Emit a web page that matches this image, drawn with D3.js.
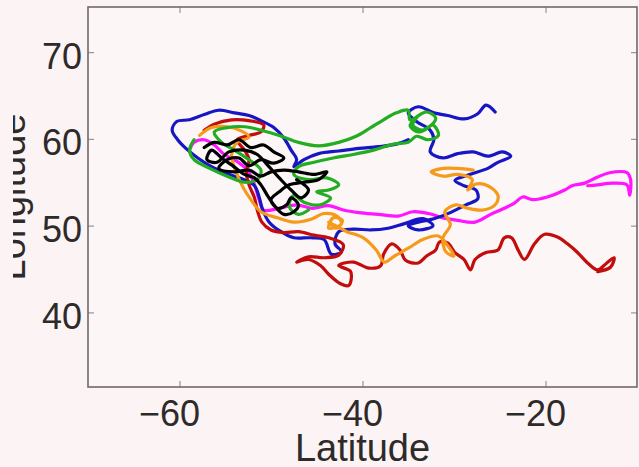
<!DOCTYPE html>
<html>
<head>
<meta charset="utf-8">
<script src="https://cdn.jsdelivr.net/npm/d3@7"></script>
<style>
  body { margin: 0; background: #fcf4f4; }
  svg { display: block; }
  .tick text { font-family: "Liberation Sans", Arial, sans-serif; fill: #2e2a2a; }
</style>
</head>
<body>
<div id="chart"></div>
<script>
// tick values
var xTicks = [-60, -40, -20];
var yTicks = [40, 50, 60, 70];

// tracks as [latitude, longitude] pairs
var blueTrack = [[-25.5,63.1],[-26.5,63.9],[-27.4,62.9],[-28.9,62.3],[-30.7,62.7],[-32.2,63.0],[-33.9,63.7],[-35.0,63.0],
  [-34.1,62.0],[-32.6,61.0],[-32.2,59.9],[-32.6,58.5],[-31.2,57.8],[-29.6,58.3],[-27.9,58.5],[-26.3,58.0],[-24.7,58.5],
  [-23.8,58.0],[-25.2,57.3],[-26.3,56.6],[-28.3,55.9],[-29.9,55.2],[-28.9,54.6],[-27.6,54.1],[-27.4,53.1],[-28.7,52.4],
  [-30.4,51.5],[-32.2,50.8],[-33.9,50.4],[-35.0,50.0],[-33.9,49.5],[-32.3,50.0],[-33.4,50.8],[-35.5,50.2],[-37.2,49.7],
  [-39.1,49.5],[-41.0,49.6],[-42.6,49.3],[-43.0,47.9],[-42.3,47.0],[-43.4,46.7],[-44.2,48.4],[-45.7,48.6],[-47.5,48.6],
  [-48.9,49.3],[-50.2,50.4],[-50.9,51.8],[-51.3,53.3],[-51.8,54.6],[-53.2,55.4],[-54.8,56.0],[-56.5,56.8],[-58.0,57.8],
  [-59.3,58.9],[-60.2,59.9],[-60.8,61.0],[-60.3,62.0],[-58.9,62.2],[-57.3,62.8],[-55.7,63.3],[-54.0,63.0],[-52.4,62.7],
  [-51.1,62.1],[-49.7,61.3],[-48.6,60.1],[-47.8,58.7],[-47.2,57.6],[-47.5,56.8],[-46.4,57.6],[-44.8,58.3],[-42.6,58.6],
  [-40.4,58.9],[-38.3,59.1],[-36.3,59.4],[-35.0,59.9]];

var greenTrack = [[-58.4,59.9],[-58.9,58.7],[-58.4,57.6],[-56.7,56.6],[-54.8,55.7],[-52.9,55.0],[-51.5,55.3],[-51.1,56.4],
  [-52.4,57.6],[-54.0,58.7],[-55.4,59.6],[-56.2,60.8],[-54.8,61.3],[-52.9,61.4],[-51.1,61.0],[-49.1,60.4],[-47.0,59.6],
  [-44.8,59.2],[-42.6,59.6],[-40.7,60.3],[-39.1,61.3],[-37.7,62.2],[-36.3,63.0],[-35.0,63.3],[-34.8,62.2],[-33.0,63.1],
  [-32.0,62.4],[-32.8,61.3],[-33.9,60.8],[-34.8,61.5],[-33.9,62.7],[-34.5,61.6],
  [-33.4,61.0],[-32.3,61.6],[-31.7,60.4],[-32.8,59.9],[-34.1,60.3],[-35.0,59.6],[-36.6,59.4],[-38.8,58.7],[-41.0,58.2],
  [-43.2,57.8],[-45.3,57.3],[-47.0,56.8],[-47.5,55.9],[-45.9,55.3],[-43.9,55.5],[-42.6,54.7],[-43.7,54.1],[-45.0,53.9],
  [-43.5,53.2],[-44.6,52.4],[-46.4,52.7],[-47.5,53.5],[-48.0,52.2],[-47.0,51.3],[-45.9,51.8]];

var blackTrack = [[-57.3,59.0],[-56.2,59.6],[-54.8,59.3],[-53.5,59.9],[-52.2,59.0],[-50.8,59.3],[-49.7,58.5],[-48.6,57.8],
  [-49.7,57.2],[-51.1,57.6],[-52.4,56.9],[-53.5,57.8],[-54.8,57.6],[-55.7,56.6],[-54.0,56.2],[-52.4,56.4],[-51.1,55.7],
  [-50.0,56.2],[-48.6,56.4],[-47.0,56.2],[-45.3,55.9],[-43.9,56.2],[-44.8,55.3],[-46.4,55.0],[-48.0,54.7],[-49.1,53.9],
  [-50.0,53.0],[-49.3,52.0],[-48.3,52.4],[-47.8,53.2],[-47.0,52.4],[-47.5,51.6],[-48.6,51.3],[-49.7,52.4],[-50.4,53.5],
  [-51.1,54.7],[-51.8,55.5],[-52.9,55.9],[-54.3,57.0],[-55.4,57.8],[-56.5,58.7],[-57.0,57.6],[-55.9,57.3],[-54.6,58.5],
  [-52.9,58.7],[-51.5,58.2],[-50.4,57.0],[-49.1,55.5],[-47.8,54.1],[-46.7,53.2],[-45.9,54.1],[-47.2,55.3]];

var redTrack = [[-57.3,61.0],[-56.2,61.7],[-54.3,62.2],[-52.4,62.1],[-50.8,61.6],[-51.1,60.8],[-52.4,60.4],[-53.7,59.9],
  [-52.9,58.7],[-52.4,57.6],[-52.7,56.2],[-52.4,54.7],[-51.8,53.2],[-51.5,51.8],[-51.0,50.4],[-50.0,49.5],[-48.6,49.2],
  [-47.0,49.3],[-45.3,48.9],[-43.7,48.6],[-42.1,47.8],[-42.6,46.6],[-44.2,46.3],[-45.9,46.4],[-47.2,45.8],[-45.9,46.1],
  [-44.6,45.4],[-43.7,44.4],[-42.4,43.3],[-41.5,43.1],[-41.3,44.7],[-42.6,45.4],[-41.0,45.8],[-39.3,45.1],[-38.0,45.4],
  [-37.7,46.7],[-36.8,47.9],[-35.9,47.2],[-35.3,46.0],[-33.9,45.7],[-33.0,46.5],[-32.0,47.2],[-31.6,48.1],[-30.7,48.0],
  [-29.9,46.9],[-28.9,46.1],[-28.2,44.9],[-27.7,46.1],[-26.5,46.9],[-25.2,47.2],[-24.5,48.6],[-23.7,48.6],[-23.0,47.2],
  [-22.3,46.1],[-21.2,47.9],[-20.1,49.0],[-18.7,48.7],[-17.6,47.9],[-16.5,46.9],[-15.4,45.7],[-14.3,44.9],[-13.3,45.7],
  [-12.5,46.3],[-12.9,45.2],[-14.3,44.7]];

var orangeTrack = [[-57.8,60.4],[-56.5,61.3],[-54.8,61.4],[-53.2,60.9],[-52.4,60.2],[-53.7,59.6],[-54.3,58.2],[-53.9,56.4],
  [-53.0,54.3],[-52.2,53.0],[-51.1,51.6],[-49.3,50.9],[-47.5,50.4],[-45.7,50.7],[-44.2,51.4],[-42.8,51.1],[-42.3,50.2],
  [-43.7,49.7],[-43.2,50.9],[-42.2,50.6],[-42.8,49.7],[-43.7,50.4],[-42.6,49.8],[-41.7,49.3],[-39.9,48.6],[-38.5,47.2],
  [-37.6,45.8],[-36.5,46.5],[-35.0,47.4],
  [-33.4,48.4],[-31.7,48.8],[-30.7,47.7],[-30.0,46.5],[-30.9,47.0],[-31.2,48.6],[-30.4,50.1],[-31.0,51.6],[-29.8,52.4],
  [-28.5,52.0],[-26.8,51.8],[-25.5,52.4],[-25.2,53.5],[-26.3,54.6],[-27.6,54.8],[-28.5,54.1],[-28.0,55.3],[-29.6,55.9],
  [-31.2,55.7],[-32.5,56.2],[-31.2,56.6],[-29.6,56.6],[-27.9,56.4]];

var magentaTrack = [[-58.9,58.7],[-58.4,59.6],[-57.3,59.9],[-56.2,59.3],[-55.1,58.2],[-54.0,57.6],[-52.6,56.4],[-51.8,54.7],
  [-51.3,53.0],[-50.8,51.8],[-49.1,52.0],[-47.2,52.4],[-45.5,52.0],[-43.7,52.3],[-42.1,51.8],[-40.4,51.5],[-38.3,51.3],
  [-36.1,51.1],[-34.5,51.6],[-32.8,51.4],[-31.2,50.9],[-29.6,50.6],[-27.7,50.4],[-26.0,51.3],[-24.5,52.0],[-23.4,52.6],
  [-22.5,53.3],[-21.4,53.0],[-19.8,53.3],[-17.9,54.1],[-17.1,54.6],[-15.7,54.9],[-14.3,55.6],[-13.0,56.1],[-11.1,56.1],
  [-10.7,55.3],[-10.8,53.5],[-11.1,54.7],[-12.7,54.9],[-14.3,54.7],[-15.4,54.6]];

var tracks = [
  { name: "magenta", color: "#ff14ff", data: magentaTrack },
  { name: "blue", color: "#1616c4", data: blueTrack },
  { name: "red", color: "#c20a0a", data: redTrack },
  { name: "orange", color: "#f59a1a", data: orangeTrack },
  { name: "green", color: "#22ad22", data: greenTrack },
  { name: "black", color: "#000000", data: blackTrack }
];

var svgWidth = 639;
var svgHeight = 467;
var plot = { left: 88, right: 637, top: 7, bottom: 387 };

var svg = d3.select("#chart")
    .append("svg")
    .attr("width", svgWidth)
    .attr("height", svgHeight);

var xScale = d3.scaleLinear().domain([-70, -10]).range([plot.left, plot.right]);
var yScale = d3.scaleLinear().domain([31.4, 75.2]).range([plot.bottom, plot.top]);

// plot background
svg.append("rect")
    .attr("x", plot.left).attr("y", plot.top)
    .attr("width", plot.right - plot.left).attr("height", plot.bottom - plot.top)
    .attr("fill", "#fdf6f6");

svg.append("defs").append("clipPath").attr("id", "plotClip")
    .append("rect")
    .attr("x", plot.left).attr("y", plot.top)
    .attr("width", plot.right - plot.left).attr("height", plot.bottom - plot.top);

svg.select("defs").append("filter").attr("id", "soft")
    .append("feGaussianBlur").attr("stdDeviation", 0.6);

var line = d3.line()
    .curve(d3.curveCatmullRom.alpha(0.5))
    .x(d => xScale(d[0]))
    .y(d => yScale(d[1]));

var trackGroup = svg.append("g")
    .attr("clip-path", "url(#plotClip)")
    .attr("filter", "url(#soft)");

trackGroup.selectAll("path")
    .data(tracks)
    .enter()
    .append("path")
    .attr("d", d => line(d.data))
    .attr("fill", "none")
    .attr("stroke", d => d.color)
    .attr("stroke-width", 3.2)
    .attr("stroke-linejoin", "round")
    .attr("stroke-linecap", "round");

// axes, ticks pointing inward like the original
var bottomAxis = d3.axisBottom(xScale).tickValues(xTicks).tickSizeInner(-6).tickSizeOuter(0);
var topAxis = d3.axisTop(xScale).tickValues(xTicks).tickSizeInner(-6).tickSizeOuter(0).tickFormat("");
var leftAxis = d3.axisLeft(yScale).tickValues(yTicks).tickSizeInner(-6).tickSizeOuter(0);
var rightAxis = d3.axisRight(yScale).tickValues(yTicks).tickSizeInner(-6).tickSizeOuter(0).tickFormat("");

var xAxis = svg.append("g")
    .attr("transform", `translate(0, ${plot.bottom})`)
    .call(bottomAxis);
svg.append("g")
    .attr("transform", `translate(0, ${plot.top})`)
    .call(topAxis);
var yAxis = svg.append("g")
    .attr("transform", `translate(${plot.left}, 0)`)
    .call(leftAxis);
svg.append("g")
    .attr("transform", `translate(${plot.right}, 0)`)
    .call(rightAxis);

svg.selectAll(".domain").remove();
svg.selectAll(".tick line").attr("stroke", "#9a9494").attr("stroke-width", 1.2);

xAxis.selectAll("text")
    .attr("font-size", 36)
    .attr("text-anchor", "end")
    .attr("x", 20)
    .attr("y", 39)
    .attr("dy", null);

yAxis.selectAll("text")
    .attr("font-size", 36)
    .attr("x", -6)
    .attr("y", 16)
    .attr("dy", null);

// box
svg.append("rect")
    .attr("x", plot.left).attr("y", plot.top)
    .attr("width", plot.right - plot.left).attr("height", plot.bottom - plot.top)
    .attr("fill", "none")
    .attr("stroke", "#6e6a6a")
    .attr("stroke-width", 1.6);

// axis titles
svg.append("text")
    .attr("x", (plot.left + plot.right) / 2)
    .attr("y", 461)
    .attr("text-anchor", "middle")
    .attr("font-family", "Liberation Sans, Arial, sans-serif")
    .attr("font-size", 38)
    .attr("fill", "#2e2a2a")
    .text("Latitude");

svg.select("defs").append("clipPath").attr("id", "labelClip")
    .append("rect").attr("x", 13).attr("y", 0).attr("width", 100).attr("height", svgHeight);

svg.append("g")
    .attr("clip-path", "url(#labelClip)")
    .append("text")
    .attr("transform", `translate(25, ${(plot.top + plot.bottom) / 2})rotate(-90)`)
    .attr("text-anchor", "middle")
    .attr("font-family", "Liberation Sans, Arial, sans-serif")
    .attr("font-size", 38)
    .attr("fill", "#2e2a2a")
    .text("Longitude");
</script>
</body>
</html>
